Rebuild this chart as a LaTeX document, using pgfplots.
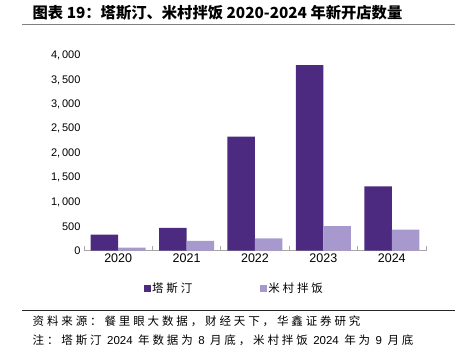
\documentclass[border=0pt]{standalone}
\usepackage{fontspec}
\usepackage{pgfplots}
\pgfplotsset{compat=1.18}
\setmainfont{Liberation Sans}
\newfontfamily\cjk{Noto Sans CJK SC}[LetterSpace=25]
\newfontfamily\cjkt{Noto Sans CJK SC}
\newcommand\lat[1]{{\rmfamily\fontsize{11.5}{13}\selectfont #1}}
\definecolor{darkp}{RGB}{76,42,128}
\definecolor{lightp}{RGB}{167,153,206}
\begin{document}
\begin{tikzpicture}[x=1pt,y=1pt]
\path (0,0) rectangle (461,354);
\node[anchor=west, inner sep=0] at (32.5,341.3) {\fontsize{15.3}{18}\selectfont\cjkt\bfseries 图表 19：塔斯汀、米村拌饭 2020-2024 年新开店数量};
\draw[black!50, line width=1.5pt] (22,329.7) -- (455,329.7);
\begin{axis}[
  at={(84pt,103.3pt)}, anchor=south west,
  scale only axis, width=342pt, height=195pt,
  ymin=0, ymax=4000, xmin=-0.5, xmax=4.5,
  ybar=0pt, bar width=27.5pt,
  axis x line*=bottom, axis y line*=left,
  x axis line style={-, black!35, line width=0.8pt},
  y axis line style={draw=none},
  ytick={0,500,...,4000},
  ytick style={draw=none},
  yticklabel style={font=\fontsize{11}{13}\selectfont},
  /pgf/number format/1000 sep={,\,},
  /pgf/number format/assume math mode=true,
  xtick={0,1,2,3,4},
  xticklabels={2020,2021,2022,2023,2024},
  xticklabel style={font=\fontsize{12.5}{14}\selectfont},
  major tick length=0pt,
  tick style={black!35, line width=0.8pt},
  extra x ticks={-0.5,0.5,1.5,2.5,3.5,4.5},
  extra x tick labels={},
  extra x tick style={major tick length=4.5pt, tick align=inside},
  legend style={at={(0.4386,-0.1938)}, anchor=center, draw=none, fill=none,
    legend columns=2, font=\fontsize{11.5}{13}\selectfont\cjk,
    nodes={inner xsep=1.5pt},
    /tikz/every even column/.append style={column sep=66pt}},
  legend image code/.code={\path[#1] (0pt,-3.5pt) rectangle (7pt,3.5pt);},
]
\addplot[fill=darkp, draw=none] coordinates {(0,330) (1,468) (2,2340) (3,3808) (4,1320)};
\addplot[fill=lightp, draw=none] coordinates {(0,62) (1,200) (2,255) (3,503) (4,433)};
\legend{塔斯汀,米村拌饭}
\end{axis}
\draw[black!85, line width=0.8pt] (22,43.3) -- (455,43.3);
\node[anchor=west, inner sep=0] at (32.5,33) {\fontsize{11.5}{13}\selectfont\cjk 资料来源：餐里眼大数据，财经天下，华鑫证券研究};
\node[anchor=west, inner sep=0] at (32.5,13.5) {\fontsize{11.5}{13}\selectfont\cjk 注：塔斯汀 \lat{2024} 年数据为 \lat{8} 月底，米村拌饭 \lat{2024} 年为 \lat{9} 月底};
\end{tikzpicture}
\end{document}
